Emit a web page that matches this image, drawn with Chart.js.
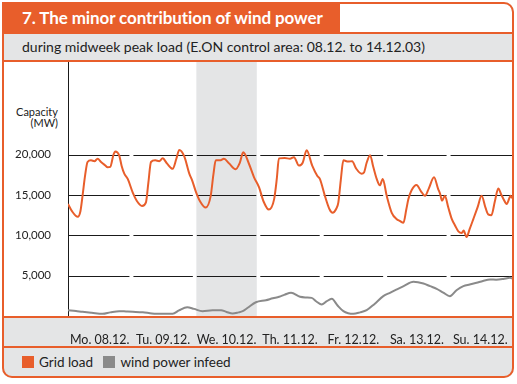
<!DOCTYPE html>
<html>
<head>
<meta charset="utf-8">
<script src="https://cdn.jsdelivr.net/npm/chart.js@4.4.0/dist/chart.umd.min.js"></script>
<style>
  body { margin: 0; width: 517px; height: 384px; background: #fff; position: relative; overflow: hidden;
         font-family: Lato, 'Open Sans', sans-serif; color: #222; }
  .abs { position: absolute; }
  .orange { background: #e85e2b; }
  .grey { background: #e4e5e6; }
  #frame { left: 2px; top: 2px; width: 512px; height: 376px; box-sizing: border-box;
           border: 2px solid #e85e2b; border-radius: 0 10px 10px 10px; z-index: 5; }
  #title { left: 2px; top: 2px; width: 338px; height: 31px; color: #fff; font-weight: 700; font-size: 17px;
           line-height: 31px; padding-left: 20px; box-sizing: border-box; letter-spacing: -0.1px; white-space: nowrap; }
  #subtitle { left: 2px; top: 34px; width: 512px; height: 26px; font-size: 14px; line-height: 26px;
              padding-left: 20px; box-sizing: border-box; white-space: nowrap; }
  #unit { right: 459px; top: 106px; font-size: 11px; line-height: 11px; text-align: right; }
  #legend { left: 22px; top: 356px; font-size: 13.5px; line-height: 13px; white-space: nowrap; }
  #legend span.sw { display: inline-block; width: 12px; height: 12px; vertical-align: -1px; margin-right: 5px; }
  #chartWrap { left: 0; top: 62px; width: 512px; height: 285px; z-index: 2; }
</style>
</head>
<body>
<div class="abs grey" style="left:2px;top:2px;width:512px;height:376px;border-radius:0 10px 10px 10px;"></div>
<div class="abs" style="left:340px;top:2px;width:172px;height:31px;background:#fff;border-radius:0 10px 0 0;"></div>
<div class="abs orange" id="title">7. The minor contribution of wind power</div>
<div class="abs orange" style="left:2px;top:32px;width:512px;height:2px;"></div>
<div class="abs" id="subtitle">during midweek peak load (E.ON control area: 08.12. to 14.12.03)</div>
<div class="abs orange" style="left:2px;top:60px;width:512px;height:2px;"></div>
<div class="abs" style="left:2px;top:62px;width:512px;height:254px;background:#fff;"></div>
<div class="abs orange" style="left:2px;top:316px;width:512px;height:2px;"></div>
<div class="abs orange" style="left:2px;top:346px;width:512px;height:2px;"></div>
<div class="abs" id="unit">Capacity<br>(MW)</div>
<div class="abs" id="legend"><span class="sw" style="background:#e85e2b"></span>Grid load&nbsp;&nbsp;&nbsp;<span class="sw" style="background:#8a8a8a"></span>wind power infeed</div>
<div class="abs" id="chartWrap"><canvas id="chart" width="512" height="285"></canvas></div>
<div class="abs" id="frame"></div>

<script>
// ---- DATA (hours from Mo. 08.12. 00:00, MW) ----
const dayLabels = ['Mo. 08.12.', 'Tu. 09.12.', 'We. 10.12.', 'Th. 11.12.', 'Fr. 12.12.', 'Sa. 13.12.', 'Su. 14.12.'];
const dayTicks = [12, 36, 60, 84, 108, 132, 156];
const yTicks = [5000, 10000, 15000, 20000];
const shadeFrom = 48, shadeTo = 72;   // Wednesday

const loadHours = [0, 1.5, 3.7, 4.7, 5.5, 6.5, 7.4, 8.7, 10, 11.2, 12.5, 14, 15, 16, 17.2, 17.9, 19.4, 20.3, 21.3, 22.6,
  24.5, 26, 28, 29.5, 30.4, 31.4, 33, 34.5, 35.8, 37.5, 39.6, 41, 42.1, 44, 45.9, 47,
  48.4, 50, 52.1, 54, 55, 55.9, 57.5, 59, 61, 63.4, 65, 66.3, 68.5, 70.4,
  72.3, 74, 76, 78, 79, 79.8, 82, 84, 85.5, 87.4, 88.8, 90.3, 92.4, 94.3, 95.3,
  97.2, 99, 100.1, 101.5, 102.3, 103.2, 104.2, 106, 107.5, 109, 111.1, 112, 113, 114.3, 115.5, 116.8, 118, 119.1,
  120.6, 122.5, 124.4, 125.5, 126.9, 128, 128.8, 130, 131.9, 133.5, 135.1, 136.5, 138.5, 140, 140.8, 141.5, 142.6, 143.9,
  145.2, 146.5, 147.7, 149, 149.7, 150.8, 152, 153.4, 155, 156.5, 158, 159, 160.2, 161.5, 162.8, 164, 164.7, 166, 167.5, 168];
const loadMW = [13900, 13000, 12300, 13000, 14900, 17500, 19100, 19300, 19200, 19500, 19100, 18700, 18450, 18500, 20000, 20400, 19900, 18600, 17650, 17000,
  15300, 14300, 13650, 14100, 16500, 19100, 19300, 19200, 19550, 18900, 18250, 19500, 20600, 19800, 17650, 16800,
  15400, 14200, 13450, 14900, 17500, 19300, 19300, 19500, 18900, 18200, 19000, 20300, 18850, 17200,
  15950, 14200, 13200, 14500, 17000, 19550, 19600, 19500, 19700, 18650, 19000, 20550, 18650, 17400, 17000,
  14900, 13200, 12800, 13300, 14100, 16800, 19300, 19150, 19200, 18300, 17650, 17800, 19000, 19950, 18500, 17000, 16200, 17000,
  14900, 12800, 12000, 11800, 11550, 13200, 14500, 15600, 16250, 15500, 14900, 15800, 17200, 15800, 15150, 14300, 14900, 13450,
  12050, 11200, 10500, 10300, 10600, 9800, 10800, 12050, 13500, 14900, 13400, 12600, 12500, 14200, 15800, 15000, 14550, 13900, 14900, 14600];

const windHours = [0, 3, 5.5, 9, 13.1, 16, 19.4, 22, 24.5, 28.3, 31, 33.3, 37, 39.6, 42, 45.1, 47.7, 50.9, 54.7, 57.9,
  60, 62.3, 64.5, 66.1, 68, 71.1, 74.9, 77.5, 79.9, 82, 84.4, 87.8, 90, 92.2, 94, 96, 97.8, 99.8, 102, 104.2,
  106, 108, 110.5, 113, 116, 119.3, 122, 124.4, 127, 130.7, 134.5, 137, 139.5, 142, 144.5, 147, 149.6, 152, 154.6, 157,
  159.7, 162, 164.7, 167.2, 168];
const windMW = [720, 620, 520, 400, 270, 450, 600, 560, 520, 450, 350, 270, 280, 270, 700, 1100, 880, 600, 720, 720,
  500, 310, 450, 600, 1020, 1710, 1960, 2200, 2380, 2650, 2880, 2380, 2300, 2250, 1800, 1430, 1800, 2130, 1300, 600,
  350, 270, 450, 720, 1500, 2460, 2900, 3290, 3700, 4240, 4030, 3700, 3370, 2900, 2460, 3200, 3700, 3900, 4120, 4350,
  4530, 4500, 4590, 4740, 4650];

const toPoints = (xs, ys) => xs.map((h, i) => ({ x: h, y: ys[i] }));

// ---- shaded Wednesday, broken gridlines, y axis line ----
const backdrop = {
  id: 'backdrop',
  beforeDatasetsDraw(chart) {
    const { ctx, chartArea: a, scales: { x, y } } = chart;
    ctx.save();
    const s0 = x.getPixelForValue(shadeFrom), s1 = x.getPixelForValue(shadeTo);
    ctx.fillStyle = '#e4e5e6';
    ctx.fillRect(s0 + 1.5, a.top, s1 - s0 - 3, a.bottom - a.top);

    ctx.strokeStyle = '#1a1a1a';
    ctx.lineWidth = 1;
    yTicks.forEach(v => {
      const py = Math.round(y.getPixelForValue(v)) + 0.5;
      for (let d = 0; d < 7; d++) {
        const x0 = x.getPixelForValue(d * 24) + (d ? 2 : 0);
        const x1 = x.getPixelForValue(d * 24 + 24) - (d < 6 ? 2 : 0);
        ctx.beginPath(); ctx.moveTo(x0, py); ctx.lineTo(x1, py); ctx.stroke();
      }
    });
    ctx.beginPath();
    ctx.moveTo(a.left + 0.5, a.top);
    ctx.lineTo(a.left + 0.5, a.bottom);
    ctx.stroke();
    ctx.restore();
  }
};

new Chart(document.getElementById('chart'), {
  type: 'line',
  data: {
    datasets: [
      { label: 'Grid load', data: toPoints(loadHours, loadMW), borderColor: '#e85e2b', borderWidth: 2,
        pointRadius: 0, cubicInterpolationMode: 'monotone' },
      { label: 'wind power infeed', data: toPoints(windHours, windMW), borderColor: '#8a8a8a', borderWidth: 2,
        pointRadius: 0, cubicInterpolationMode: 'monotone' }
    ]
  },
  options: {
    responsive: false,
    animation: false,
    layout: { padding: 0 },
    plugins: { legend: { display: false }, tooltip: { enabled: false } },
    scales: {
      x: {
        type: 'linear', min: 0, max: 168,
        grid: { display: false }, border: { display: false },
        afterBuildTicks: s => { s.ticks = dayTicks.map(v => ({ value: v })); },
        afterFit: s => { s.height = 31; s.paddingLeft = 0; s.paddingRight = 0; },
        ticks: {
          autoSkip: false, maxRotation: 0, padding: 8, color: '#222',
          font: { family: 'Lato', size: 12.5 },
          callback: v => dayLabels[dayTicks.indexOf(v)]
        }
      },
      y: {
        min: 0, max: 31500,
        grid: { display: false }, border: { display: false },
        afterBuildTicks: s => { s.ticks = yTicks.map(v => ({ value: v })); },
        afterFit: s => { s.width = 68; s.paddingTop = 0; s.paddingBottom = 0; },
        ticks: { padding: 9, color: '#222', font: { family: 'Lato', size: 11.5 } }
      }
    }
  },
  plugins: [backdrop]
});
</script>
</body>
</html>
